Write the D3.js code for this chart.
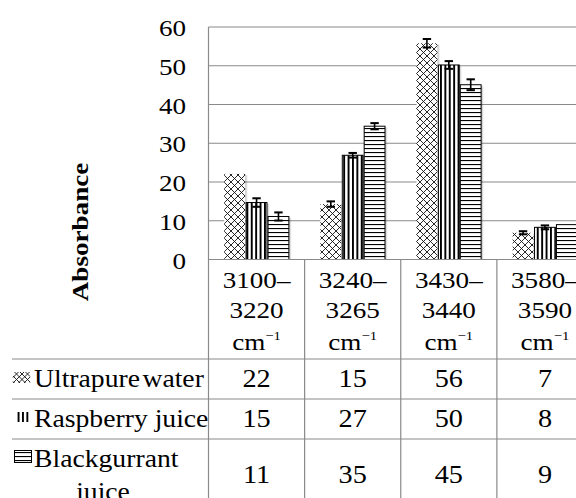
<!DOCTYPE html>
<html><head><meta charset="utf-8">
<script src="https://cdn.jsdelivr.net/npm/d3@7"></script>
<style>
body{margin:0;background:#fff}
svg{display:block}
</style>
</head><body><svg id="c" width="576" height="498"></svg>
<script>
// ---- data ----
const catTop = ["3100–", "3240–", "3430–", "3580–"];
const catMid = ["3220", "3265", "3440", "3590"];
const catUnit = "cm";
const catSup = "−1";
const seriesNames = ["Ultrapure water", "Raspberry juice", "Blackgurrant"];
const seriesNames2 = ["", "", "juice"];
const water = [22.1, 14.3, 55.8, 6.9];
const raspberry = [14.7, 26.9, 50.2, 8.3];
const blackcurrant = [11.1, 34.4, 45.1, 9.0];
const errWater = [0, 0.7, 1.1, 0.4];
const errRasp = [1.1, 0.6, 1.0, 0.5];
const errBlack = [1.05, 0.8, 1.4, 0];
const tblWater = ["22", "15", "56", "7"];
const tblRasp = ["15", "27", "50", "8"];
const tblBlack = ["11", "35", "45", "9"];
const yTicks = [0, 10, 20, 30, 40, 50, 60];
const yTitle = "Absorbance";

const series = [water, raspberry, blackcurrant];
const errs = [errWater, errRasp, errBlack];
const tbl = [tblWater, tblRasp, tblBlack];

const FONT = '"Liberation Serif", monospace';
const svg = d3.select("#c");
const SX = 1.13;
const GRID = "#8a8a8a";

const x = d3.scaleBand().domain(d3.range(catTop.length)).range([208.5, 593]).paddingInner(0).paddingOuter(0);
const xi = d3.scaleBand().domain(d3.range(3)).range([0, x.bandwidth()]).paddingInner(0.05).paddingOuter(0.72);
const y = d3.scaleLinear().domain([0, 60]).range([259.5, 27]);

function txt(px, py, str, size, anchor, weight, rot) {
  return svg.append("text")
    .attr("transform", `translate(${px},${py})${rot ? ` rotate(${rot})` : ""} scale(${SX},1)`)
    .attr("text-anchor", anchor || "middle")
    .style("font-family", FONT)
    .style("font-size", size + "px")
    .style("font-weight", weight || "normal")
    .text(str);
}

// ---- hatch drawing without <pattern> ----
function crossFill(g, x0, y0, x1, y1, P) {
  let d = "";
  const cmin = Math.floor((y0 - x1) / P) * P, cmax = Math.ceil((y1 - x0) / P) * P;
  for (let c = cmin; c <= cmax; c += P) {
    const a = Math.max(x0, y0 - c), b = Math.min(x1, y1 - c);
    if (b > a) d += `M${a},${a + c}L${b},${b + c}`;
  }
  const kmin = Math.floor((x0 + y0) / P) * P, kmax = Math.ceil((x1 + y1) / P) * P;
  for (let k = kmin; k <= kmax; k += P) {
    const a = Math.max(x0, k - y1), b = Math.min(x1, k - y0);
    if (b > a) d += `M${a},${k - a}L${b},${k - b}`;
  }
  g.append("rect").attr("x", x0).attr("y", y0).attr("width", x1 - x0).attr("height", y1 - y0).attr("fill", "#fff");
  g.append("path").attr("d", d).attr("stroke", "#111").attr("stroke-width", 0.9).attr("fill", "none");
}
function vertFill(g, x0, y0, x1, y1, P, w) {
  g.append("rect").attr("x", x0).attr("y", y0).attr("width", x1 - x0).attr("height", y1 - y0).attr("fill", "#fff");
  for (let s = Math.ceil(x0 / P) * P; s < x1; s += P) {
    g.append("rect").attr("x", s).attr("y", y0).attr("width", Math.min(w, x1 - s)).attr("height", y1 - y0).attr("fill", "#000");
  }
}
function horzFill(g, x0, y0, x1, y1, P, w) {
  g.append("rect").attr("x", x0).attr("y", y0).attr("width", x1 - x0).attr("height", y1 - y0).attr("fill", "#fff");
  for (let s = Math.ceil(y0 / P) * P; s < y1; s += P) {
    g.append("rect").attr("x", x0).attr("y", s).attr("width", x1 - x0).attr("height", Math.min(w, y1 - s)).attr("fill", "#000");
  }
}
function fillBar(g, s, x0, y0, x1, y1) {
  if (s === 0) crossFill(g, x0, y0, x1, y1, 7);
  else if (s === 1) vertFill(g, x0, y0, x1, y1, 4.4, 1.9);
  else horzFill(g, x0, y0, x1, y1, 4, 1.1);
  if (s !== 0) g.append("rect").attr("x", x0).attr("y", y0).attr("width", x1 - x0).attr("height", y1 - y0)
    .attr("fill", "none").attr("stroke", "#000").attr("stroke-width", 1);
}

// ---- gridlines ----
svg.append("g").selectAll("line").data(y.ticks(6).filter(d => d > 0)).join("line")
  .attr("x1", 208.5).attr("x2", 576).attr("y1", d => y(d)).attr("y2", d => y(d))
  .attr("stroke", GRID).attr("stroke-width", 1.2);

// ---- soft shadows ----
const shadow = svg.append("g").attr("fill", "#000");
series.forEach((vals, s) => {
  [[1.5, 0.12], [2.5, 0.07]].forEach(([o, op]) => {
    shadow.append("g").selectAll("rect").data(vals).join("rect")
      .attr("x", (d, i) => x(i) + xi(s) + o)
      .attr("y", d => y(d) + o * 0.6)
      .attr("width", xi.bandwidth())
      .attr("height", d => y(0) - y(d) - o * 0.6)
      .attr("opacity", op);
  });
});

// ---- bars ----
const bars = svg.append("g");
series.forEach((vals, s) => {
  vals.forEach((v, i) => {
    const x0 = x(i) + xi(s);
    fillBar(bars.append("g"), s, x0, y(v), x0 + xi.bandwidth(), y(0));
  });
});

// ---- error bars ----
const eb = svg.append("g").attr("stroke", "#000");
series.forEach((vals, s) => {
  vals.forEach((v, i) => {
    const e = errs[s][i];
    if (!e) return;
    const cx = x(i) + xi(s) + xi.bandwidth() / 2;
    eb.append("line").attr("x1", cx).attr("x2", cx).attr("y1", y(v + e)).attr("y2", y(v - e)).attr("stroke-width", 1.6);
    [v + e, v - e].forEach(t => {
      eb.append("line").attr("x1", cx - 4.2).attr("x2", cx + 4.2).attr("y1", y(t)).attr("y2", y(t)).attr("stroke-width", 2);
    });
  });
});

// ---- table lines ----
const tl = svg.append("g").attr("stroke", GRID).attr("stroke-width", 1.2);
tl.append("line").attr("x1", 208.5).attr("x2", 208.5).attr("y1", y(60)).attr("y2", 498);
d3.range(1, catTop.length).forEach(i => {
  tl.append("line").attr("x1", x(i)).attr("x2", x(i)).attr("y1", y(0)).attr("y2", 498);
});
tl.append("line").attr("x1", 208.5).attr("x2", 576).attr("y1", y(0)).attr("y2", y(0));
[359, 399, 439].forEach(ly => tl.append("line").attr("x1", 12).attr("x2", 576).attr("y1", ly).attr("y2", ly));

// ---- texts ----
txt(88, 232, yTitle, 24, "middle", "bold", -90);
yTicks.forEach(t => txt(186, y(t) + 9, String(t), 24, "end"));

catTop.forEach((c, i) => {
  const cx = x(i) + x.bandwidth() / 2;
  txt(cx, 288, c, 24);
  txt(cx, 318, catMid[i], 24);
  const t = txt(cx, 350, catUnit, 24);
  t.append("tspan").attr("dy", -10).style("font-size", "13px").text(catSup);
});

const rowBase = [387, 427, 483];
const labBase = [387, 427, 467];
series.forEach((vals, s) => {
  tbl[s].forEach((t, i) => txt(x(i) + x.bandwidth() / 2, rowBase[s], t, 25));
  const lt = txt(34, labBase[s], seriesNames[s], 24.5, "start");
  if (s === 0) lt.style("word-spacing", "-4px");
  if (seriesNames2[s]) txt(103, 500, seriesNames2[s], 24.5, "middle");
});

// legend keys
const keys = svg.append("g");
crossFill(keys.append("g"), 13, 372, 30, 383, 5.5);
vertFill(keys.append("g"), 17, 412, 30, 422, 4.4, 1.9);
fillBar(keys.append("g"), 2, 14.5, 450.5, 31.5, 462.5);
</script>
</body></html>
